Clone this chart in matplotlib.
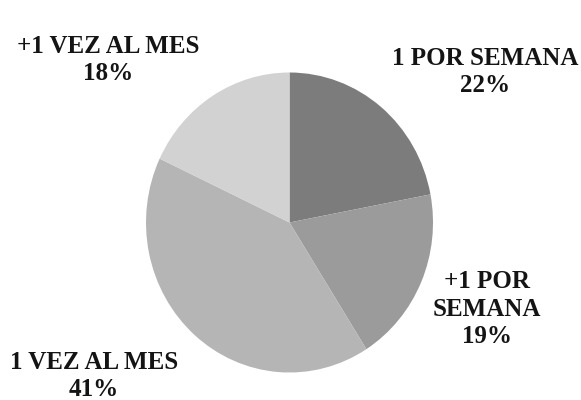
import matplotlib.pyplot as plt

# Frequency categories, clockwise from the top
categories = ["1 POR SEMANA", "+1 POR\nSEMANA", "1 VEZ AL MES", "+1 VEZ AL MES"]
percentages = [22, 19, 41, 18]
colors = ["#7c7c7c", "#9b9b9b", "#b5b5b5", "#d2d2d2"]

# label anchor points in pixels (x, y from top)
label_pos = [(485, 72), (487, 309), (94, 376), (108, 60)]

W, H = 581, 400
cx, cy, rx, ry = 289.5, 222.5, 143.5, 150.0

fig = plt.figure(figsize=(W / 100, H / 100), dpi=100)
ax = fig.add_axes([0, 0, 1, 1])
ax.pie(percentages, colors=colors, startangle=90, counterclock=False,
       radius=1, center=(0, 0), wedgeprops={"linewidth": 0})
ax.set_aspect("auto")
ax.set_xlim(-cx / rx, (W - cx) / rx)
ax.set_ylim(-(H - cy) / ry, cy / ry)
ax.axis("off")

for cat, pct, (x, y) in zip(categories, percentages, label_pos):
    fig.text(x / W, 1 - y / H, f"{cat}\n{pct}%", ha="center", va="center",
             fontsize=18, fontweight="bold", family="Liberation Serif",
             color="#141414", linespacing=1.27)

fig.savefig("out.png", dpi=100, facecolor="white")
